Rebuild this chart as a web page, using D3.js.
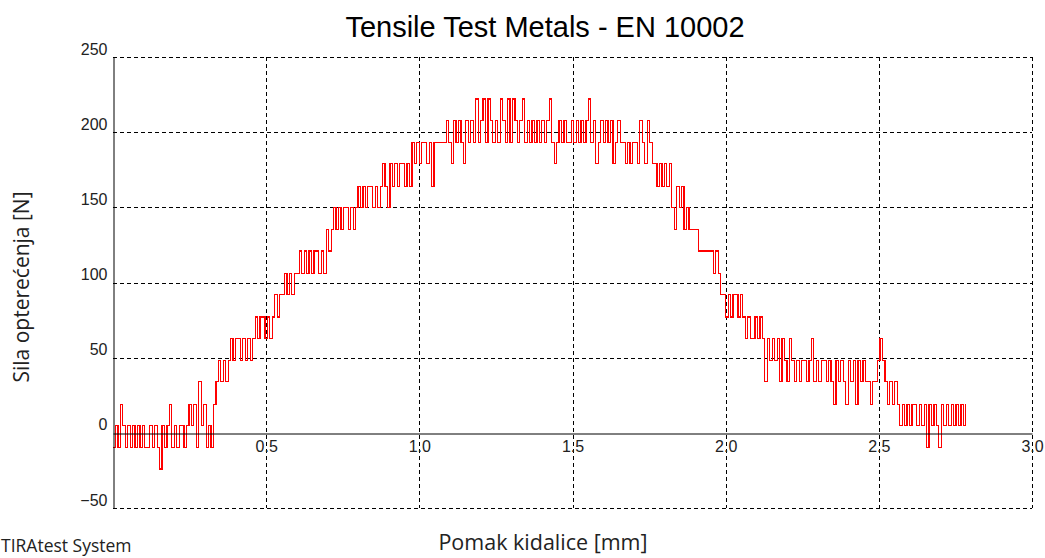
<!DOCTYPE html>
<html>
<head>
<meta charset="utf-8">
<script src="https://cdn.jsdelivr.net/npm/d3@7"></script>
<style>
body { margin: 0; background: #fff; }
svg { display: block; }
</style>
</head>
<body>
<svg id="chart" width="1045" height="558"></svg>
<script>
// sampling step of the export, mm
var step = 0.008;

// load in N, one value per sample, split by test phase
var toe = [-10, 5, -10, 19, 5, -10, 5, -10, 5, -10,
    5, -10, 5, -10, -10, 5, -10, 5, -10, -24,
    5, -10, 5, 19, -10, 5, -10, 5, 5, -10,
    5, 19, 5, 19, -10, 34, 5, 19, -10, 5,
    -10, 19];

var rise = [34, 48, 34, 48, 34, 48, 63, 48, 63, 63,
    48, 63, 48, 63, 48, 63, 77, 63, 77, 77,
    63, 77, 63, 77, 92, 77, 92, 92, 106, 92,
    106, 92, 106, 106, 121, 106, 121, 106, 121, 106,
    121, 121, 106, 121, 106, 135, 121, 135, 150, 135,
    150, 135, 150, 150, 135, 150, 135, 150, 164, 150,
    164, 150, 164, 164, 150, 164, 150, 164, 179, 164,
    150, 179, 164, 179, 164, 179, 179, 164, 179, 164,
    193, 179, 193, 179, 193, 193, 179, 193, 164, 193,
    193, 193, 193, 193, 208, 193, 179, 208, 193, 208,
    193, 179, 208, 193, 208, 193, 222, 193, 208, 222,
    193, 222, 208];

var plateau = [193, 208, 193, 222, 208, 193, 222, 193, 222, 208,
    193, 208, 222, 193, 208, 193, 208, 193, 208, 193,
    208, 193, 208, 222, 193, 179, 193, 208, 193, 208,
    193, 193, 208, 193, 208, 193, 208, 193, 208, 222,
    193, 208, 179, 193, 208, 193, 208, 193, 208, 179,
    193, 208, 193, 193, 179, 193, 179, 193, 193, 179,
    208, 193, 179, 208, 193, 179];

var fall = [179, 164, 179, 164, 179, 164, 179, 150, 135, 164,
    150, 164, 135, 150, 135, 135, 135, 135, 121, 121,
    121, 121, 121, 121, 106, 121, 106, 92, 92, 77,
    92, 77, 92, 92, 77, 92, 77, 63, 77, 63,
    63, 77, 63, 77, 63, 34, 63, 48, 63, 48,
    63, 34, 63, 48, 34, 63, 48, 34, 48, 34,
    48, 48, 34, 48, 63, 34, 48, 34, 48, 48,
    34, 48, 34, 19, 48, 34, 48, 34, 19, 48,
    34, 48, 19, 48, 34, 48, 34];

var tail = [34, 19, 34, 34, 48, 63, 48, 34, 19, 34,
    19, 34, 19, 5, 19, 5, 19, 5, 19, 19,
    5, 19, 5, 19, -10, 19, 5, 19, 5, -10,
    19, 5, 19, 5, 19, 5, 19, 5, 19, 5,
    19];

var xTicks = [0.5, 1.0, 1.5, 2.0, 2.5, 3.0];
var yTicks = [-50, 0, 50, 100, 150, 200, 250];

var force = toe.concat(rise, plateau, fall, tail);
var points = force.map(function(f, i) { return {x: i * step, y: f}; });

var svg = d3.select("#chart");
var plotLeft = 113, plotRight = 1032, plotTop = 57, plotBottom = 508;

var x = d3.scaleLinear().domain([0, 3]).range([plotLeft, plotRight]);
var y = d3.scaleLinear().domain([-50, 250]).range([plotBottom, plotTop]);

// dashed grid, the outer box is part of it
svg.append("g")
    .selectAll("line")
    .data(yTicks.filter(function(d) { return d != 0; }))
    .enter().append("line")
    .attr("x1", plotLeft).attr("x2", plotRight)
    .attr("y1", function(d) { return Math.round(y(d)) + 0.5; })
    .attr("y2", function(d) { return Math.round(y(d)) + 0.5; })
    .attr("stroke", "#000")
    .attr("stroke-dasharray", "4,3");

svg.append("g")
    .selectAll("line")
    .data(xTicks)
    .enter().append("line")
    .attr("x1", function(d) { return Math.round(x(d)) + 0.5; })
    .attr("x2", function(d) { return Math.round(x(d)) + 0.5; })
    .attr("y1", plotTop).attr("y2", plotBottom)
    .attr("stroke", "#000")
    .attr("stroke-dasharray", "4,3");

// trace
var line = d3.line()
    .x(function(d) { return x(d.x); })
    .y(function(d) { return y(d.y); })
    .curve(d3.curveStepAfter);

svg.append("path")
    .datum(points)
    .attr("d", line)
    .attr("fill", "none")
    .attr("stroke", "#ff0000")
    .attr("stroke-width", 1.2)
    .attr("shape-rendering", "crispEdges");

// axes: x sits on the zero line
var xAxis = d3.axisBottom(x).tickValues(xTicks).tickFormat(d3.format(".1f"))
    .tickSize(0).tickSizeOuter(0).tickPadding(7);
var yAxis = d3.axisLeft(y).tickValues(yTicks)
    .tickSize(0).tickSizeOuter(0).tickPadding(6);

var gx = svg.append("g")
    .attr("transform", "translate(0," + (Math.round(y(0)) + 0.5) + ")")
    .call(xAxis);
var gy = svg.append("g")
    .attr("transform", "translate(" + (plotLeft + 0.5) + ",0)")
    .call(yAxis);

gx.select(".domain").attr("stroke", "#000");
gy.select(".domain").attr("stroke", "#000");
gx.selectAll("text")
    .style("font-family", "Liberation Sans, Arial, sans-serif")
    .style("font-size", "16px")
    .attr("fill", "#222");
gy.selectAll("text")
    .style("font-family", "Liberation Sans, Arial, sans-serif")
    .style("font-size", "16px")
    .attr("fill", "#222")
    .attr("dy", null)
    .attr("y", -3);

svg.append("text")
    .attr("x", 545)
    .attr("y", 37)
    .attr("text-anchor", "middle")
    .style("font-family", "Liberation Sans, Arial, sans-serif")
    .style("font-size", "29px")
    .text("Tensile Test Metals - EN 10002");

svg.append("text")
    .attr("x", 543)
    .attr("y", 550)
    .attr("text-anchor", "middle")
    .style("font-family", "Open Sans, sans-serif")
    .style("font-size", "21.5px")
    .attr("fill", "#222")
    .text("Pomak kidalice [mm]");

svg.append("g")
    .attr("transform", "translate(29,287)")
    .append("text")
    .attr("text-anchor", "middle")
    .attr("transform", "rotate(-90)")
    .style("font-family", "Open Sans, sans-serif")
    .style("font-size", "21px")
    .attr("fill", "#222")
    .text("Sila opterećenja [N]");

svg.append("text")
    .attr("x", 1)
    .attr("y", 552)
    .style("font-family", "Open Sans, sans-serif")
    .style("font-size", "17.5px")
    .attr("fill", "#222")
    .text("TIRAtest System");
</script>
</body>
</html>
